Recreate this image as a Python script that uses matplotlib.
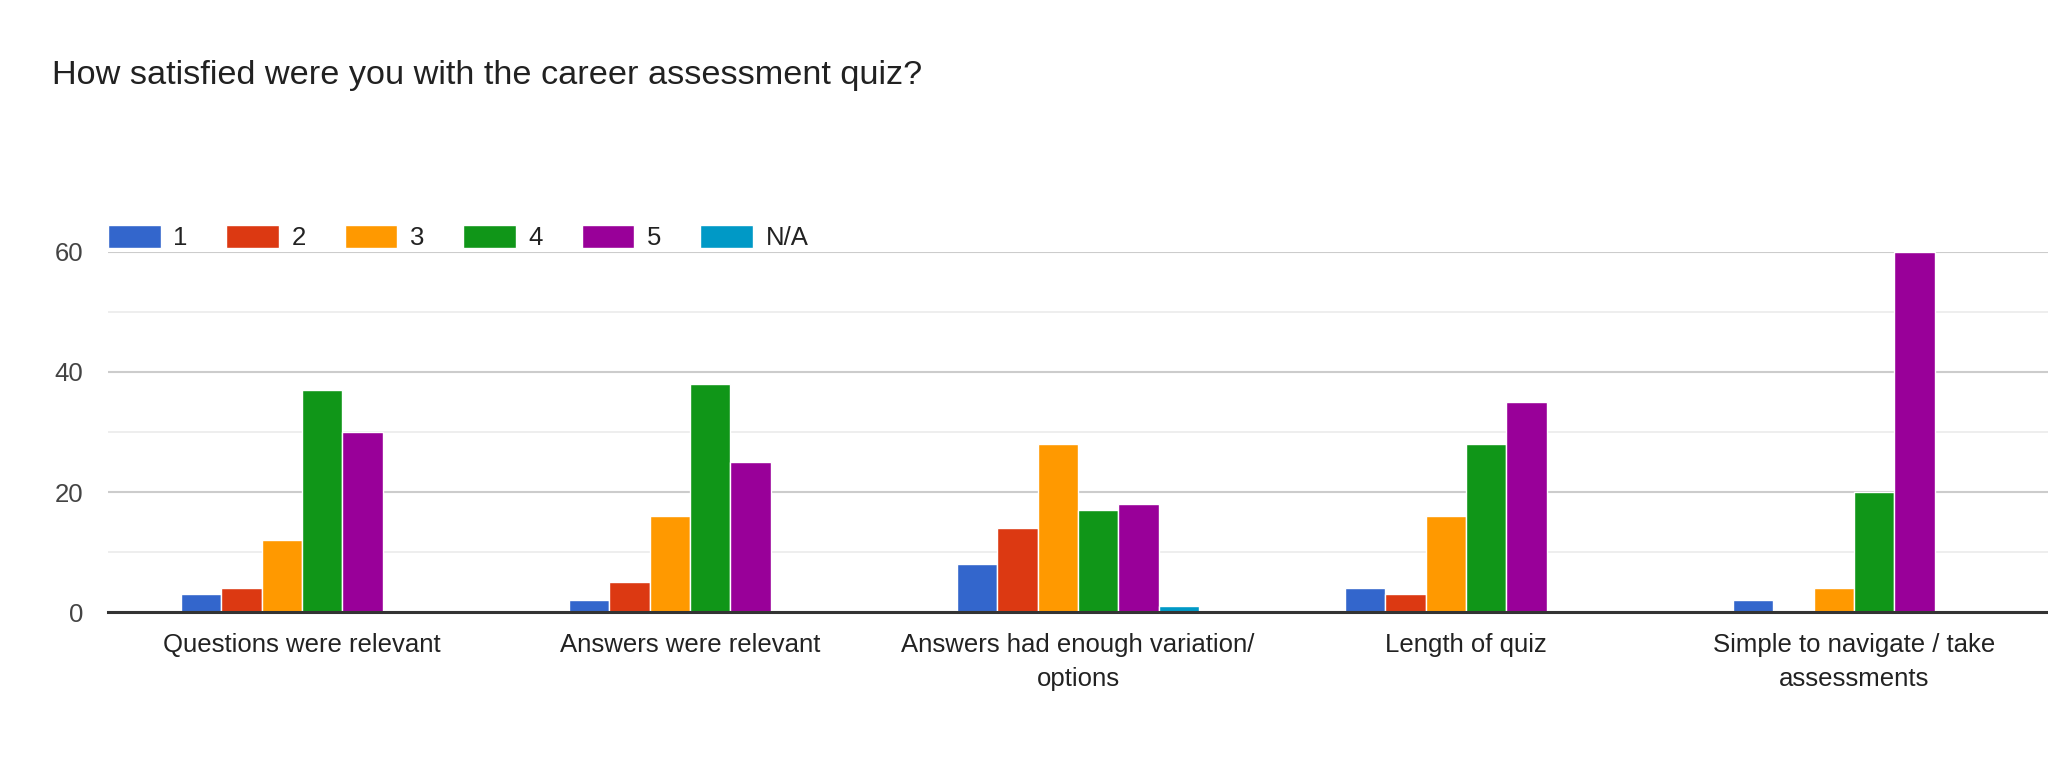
import numpy as np
import matplotlib.pyplot as plt

title = "How satisfied were you with the career assessment quiz?"
categories = ["Questions were relevant", "Answers were relevant",
              "Answers had enough variation/\noptions", "Length of quiz",
              "Simple to navigate / take\nassessments"]
series_names = ["1", "2", "3", "4", "5", "N/A"]
s1 = [3, 2, 8, 4, 2]
s2 = [4, 5, 14, 3, 0]
s3 = [12, 16, 28, 16, 4]
s4 = [37, 38, 17, 28, 20]
s5 = [30, 25, 18, 35, 60]
s_na = [0, 0, 1, 0, 0]
colors = ["#3366cc", "#dc3912", "#ff9900", "#109618", "#990099", "#0099c6"]

plt.rcParams['font.family'] = ['Liberation Sans', 'DejaVu Sans']

fig = plt.figure(figsize=(20.48, 7.72), dpi=100)
ax = fig.add_axes([0.0527, 0.207, 0.9473, 0.467])

x = np.arange(len(categories))
slot = 0.104
for i, (name, vals) in enumerate(zip(series_names, [s1, s2, s3, s4, s5, s_na])):
    ax.bar(x + (i - 2.5) * slot, vals, width=slot, color=colors[i],
           edgecolor='white', linewidth=1, label=name, zorder=3)

ax.set_xlim(-0.5, 4.5)
ax.set_ylim(0, 60)
ax.set_yticks([0, 20, 40, 60])
ax.set_yticks([10, 30, 50], minor=True)
ax.grid(axis='y', which='major', color='#cccccc', linewidth=1.5, zorder=0)
ax.grid(axis='y', which='minor', color='#ebebeb', linewidth=1.2, zorder=0)
ax.axhline(0, color='#333333', linewidth=2.2, zorder=4, clip_on=False)
for s in ax.spines.values():
    s.set_visible(False)
ax.tick_params(axis='y', which='both', length=0, pad=18, labelsize=18.5, labelcolor='#444444')
ax.tick_params(axis='x', length=0, pad=15, labelsize=18.5, labelcolor='#222222')
ax.set_xticks(x)
ax.set_xticklabels(categories, linespacing=1.55)

ax.legend(loc='lower left', bbox_to_anchor=(0.0, 1.004), ncol=6, frameon=False,
          fontsize=18.5, handlelength=2.05, handleheight=1.05, handletextpad=0.5,
          columnspacing=1.5, borderaxespad=0, borderpad=0, labelcolor='#222222')

fig.text(0.0254, 0.902, title, fontsize=24.7, color='#212121', va='center')

fig.savefig("out.png", dpi=100)
